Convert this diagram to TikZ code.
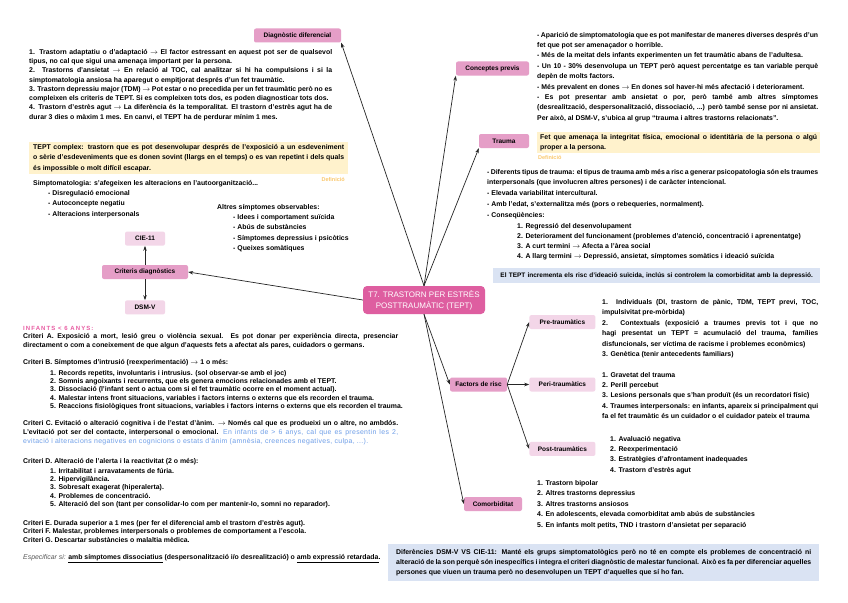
\documentclass[tikz,border=0pt]{standalone}
\usepackage{fontspec}
\setmainfont{Liberation Sans}
\usepackage{tikz}
\usetikzlibrary{arrows.meta,positioning}
\usepackage{xcolor}
\definecolor{hubpink}{RGB}{222,94,160}
\definecolor{midpink}{RGB}{229,158,199}
\definecolor{lightpink}{RGB}{243,214,232}
\definecolor{noteyel}{RGB}{255,242,204}
\definecolor{noteblu}{RGB}{218,227,243}
\definecolor{deforange}{RGB}{250,200,110}
\definecolor{infpink}{RGB}{232,92,162}
\definecolor{kidblue}{RGB}{110,158,232}
\hyphenpenalty=10000
\exhyphenpenalty=10000
\tikzset{
    hub/.style={rectangle, fill=hubpink, rounded corners=4pt, text=white,
                minimum width=122pt, minimum height=28pt, align=center,
                font=\fontsize{8}{11}\selectfont},
    blk/.style={rectangle, fill=#1, rounded corners=2pt, minimum height=14pt,
                inner sep=1pt, font=\fontsize{6.5}{8}\selectfont\bfseries},
    txt/.style={inner sep=0pt, anchor=north west, align=justify, text width=#1},
    lst/.style={inner sep=0pt, anchor=north west, align=left},
    note/.style={rectangle, fill=#1, anchor=north west, inner xsep=4pt,
                 inner ysep=2.4pt, align=justify},
    tag/.style={inner sep=0pt, text=deforange, font=\fontsize{5.5}{6}\selectfont\bfseries},
    arr/.style={-{Stealth[length=5pt,width=3.5pt]}, line width=0.7pt, draw=black!85},
}
\newcommand{\sz}[1]{\fontsize{6.9}{#1}\selectfont\bfseries}

\begin{document}
\begin{tikzpicture}[x=1pt, y=-1pt]
    \fill[white] (0,0) rectangle (848,602);
    \useasboundingbox (0,0) rectangle (848,602);

    % centre
    \node[hub] (hub) at (424,300) {T7. TRASTORN PER ESTRÈS\\POSTTRAUMÀTIC (TEPT)};

    % left branch
    \node[blk=midpink, minimum width=87pt] (dd) at (297.5,35.5) {Diagnòstic diferencial};
    \node[txt=303pt, font=\sz{9.3}] (ddtext) at (29,48.9) {%
        1. Trastorn adaptatiu o d'adaptació $\rightarrow$ El factor estressant en aquest pot ser de qualsevol tipus, no cal que sigui una amenaça important per la persona.\par
        2. Trastorns d'ansietat $\rightarrow$ En relació al TOC, cal analitzar si hi ha compulsions i si la simptomatologia ansiosa ha aparegut o empitjorat després d'un fet traumàtic.\par
        3. Trastorn depressiu major (TDM) $\rightarrow$ Pot estar o no precedida per un fet traumàtic però no es compleixen els criteris de TEPT. Si es compleixen tots dos, es poden diagnosticar tots dos.\par
        4. Trastorn d'estrès agut $\rightarrow$ La diferència és la temporalitat. El trastorn d'estrès agut ha de durar 3 dies o màxim 1 mes. En canvi, el TEPT ha de perdurar mínim 1 mes.};

    \node[note=noteyel, text width=311pt, font=\sz{10.5}] (complex) at (29,141.5) {%
        TEPT complex: trastorn que es pot desenvolupar després de l'exposició a un esdeveniment\linebreak
        o sèrie d'esdeveniments que es donen sovint (llargs en el temps) o es van repetint i dels quals\linebreak
        és impossible o molt difícil escapar.};
    \node[tag, anchor=east] (def1) at (345,180) {Definició};
    \node[lst, font=\sz{10.3}] (simp) at (33,179.9) {%
        Simptomatologia: s'afegeixen les alteracions en l'autoorganització...\\
        \hspace*{15pt}- Disregulació emocional\\
        \hspace*{15pt}- Autoconcepte negatiu\\
        \hspace*{15pt}- Alteracions interpersonals};
    \node[lst, font=\sz{10.3}] (altres) at (217,203.9) {%
        Altres símptomes observables:\\
        \hspace*{16pt}- Idees i comportament suïcida\\
        \hspace*{16pt}- Abús de substàncies\\
        \hspace*{16pt}- Símptomes depressius i psicòtics\\
        \hspace*{16pt}- Queixes somàtiques};

    \node[blk=midpink, minimum width=86pt] (cd) at (145,272) {Criteris diagnòstics};
    \node[blk=lightpink, minimum width=40pt, above=19pt of cd] (cie) {CIE-11};
    \node[blk=lightpink, minimum width=40pt, below=21pt of cd] (dsm) {DSM-V};

    \node[inner sep=0pt, anchor=west, text=infpink,
          font=\fontsize{6}{7}\selectfont\bfseries\addfontfeature{LetterSpace=18}] (inf) at (23,328) {INFANTS < 6 ANYS:};
    \node[txt=375pt, font=\sz{9}] (critA) at (23,332.9) {%
        Criteri A. Exposició a mort, lesió greu o violència sexual. Es pot donar per experiència directa, presenciar\linebreak
        directament o com a coneixement de que algun d'aquests fets a afectat als pares, cuidadors o germans.};
    \node[inner sep=0pt, anchor=west, font=\sz{9}] (critB) at (23,363) {%
        Criteri B. Símptomes d'intrusió (reexperimentació) $\rightarrow$ 1 o més:};
    \node[lst, font=\sz{8.3}] (critBl) at (50,369.9) {%
        1. Records repetits, involuntaris i intrusius. (sol observar-se amb el joc)\\
        2. Somnis angoixants i recurrents, que els genera emocions relacionades amb el TEPT.\\
        3. Dissociació (l'infant sent o actua com si el fet traumàtic ocorre en el moment actual).\\
        4. Malestar intens front situacions, variables i factors interns o externs que els recorden el trauma.\\
        5. Reaccions fisiològiques front situacions, variables i factors interns o externs que els recorden el trauma.};
    \node[txt=375pt, font=\sz{9}] (critC) at (23,419.9) {%
        Criteri C. Evitació o alteració cognitiva i de l'estat d'ànim. $\rightarrow$ Només cal que es produeixi un o altre, no ambdós.\linebreak
        L'evitació pot ser del contacte, interpersonal o emocional. {\color{kidblue}\mdseries\addfontfeature{LetterSpace=5}En infants de > 6 anys, cal que es presentin les 2,\linebreak
        evitació i alteracions negatives en cognicions o estats d'ànim (amnèsia, creences negatives, culpa, ...).}};
    \node[inner sep=0pt, anchor=west, font=\sz{9}] (critD) at (23,462) {%
        Criteri D. Alteració de l'alerta i la reactivitat (2 o més):};
    \node[lst, font=\sz{8.3}] (critDl) at (50,467.9) {%
        1. Irritabilitat i arravataments de fúria.\\
        2. Hipervigilància.\\
        3. Sobresalt exagerat (hiperalerta).\\
        4. Problemes de concentració.\\
        5. Alteració del son (tant per consolidar-lo com per mantenir-lo, somni no reparador).};
    \node[lst, font=\sz{8.5}] (critEG) at (23,519.9) {%
        Criteri E. Durada superior a 1 mes (per fer el diferencial amb el trastorn d'estrès agut).\\
        Criteri F. Malestar, problemes interpersonals o problemes de comportament a l'escola.\\
        Criteri G. Descartar substàncies o malaltia mèdica.};
    \node[inner sep=0pt, anchor=west, font=\sz{9}] (espec) at (23,559) {%
        {\color{black!65}\mdseries\itshape Especificar si:} \underline{amb símptomes dissociatius} (despersonalització i/o desrealització) o \underline{amb expressió retardada}.};

    % right branch
    \node[blk=midpink, minimum width=73pt] (cp) at (492.5,68.5) {Conceptes previs};
    \node[txt=281pt, font=\sz{10.4}] (cptext) at (537,31.9) {%
        - Aparició de simptomatologia que es pot manifestar de maneres diverses després d'un fet que pot ser amenaçador o horrible.\par
        - Més de la meitat dels infants experimenten un fet traumàtic abans de l'adultesa.\par
        - Un 10 - 30\% desenvolupa un TEPT però aquest percentatge es tan variable perquè depèn de molts factors.\par
        - Més prevalent en dones $\rightarrow$ En dones sol haver-hi més afectació i deteriorament.\par
        - Es pot presentar amb ansietat o por, però també amb altres símptomes\linebreak
        (desrealització, despersonalització, dissociació, ...) però també sense por ni ansietat.\linebreak
        Per això, al \mbox{DSM-V}, s'ubica al grup ``trauma i altres trastorns relacionats''.};

    \node[blk=midpink, minimum width=50pt] (tr) at (504,141) {Trauma};
    \node[note=noteyel, inner xsep=3pt, inner ysep=2pt, text width=277pt, font=\sz{10}] (trnote) at (537,132) {%
        Fet que amenaça la integritat física, emocional o identitària de la persona o algú proper a la persona.};
    \node[tag, anchor=west] (def2) at (538,158) {Definició};
    \node[txt=331pt, font=\sz{10.75}] (trtext) at (487,168.9) {%
        - Diferents tipus de trauma: el tipus de trauma amb més a risc a generar psicopatologia són els traumes interpersonals (que involucren altres persones) i de caràcter intencional.\par
        - Elevada variabilitat intercultural.\par
        - Amb l'edat, s'externalitza més (pors o rebequeries, normalment).\par
        - Conseqüències:};
    \node[lst, font=\sz{10}] (conseq) at (517,222.9) {%
        1. Regressió del desenvolupament\\
        2. Deteriorament del funcionament (problemes d'atenció, concentració i aprenentatge)\\
        3. A curt termini $\rightarrow$ Afecta a l'àrea social\\
        4. A llarg termini $\rightarrow$ Depressió, ansietat, símptomes somàtics i ideació suïcida};
    \node[note=noteblu, text width=321pt, inner xsep=3pt, minimum height=15pt, align=center, inner ysep=0pt,
          font=\fontsize{6.5}{9}\selectfont\bfseries] (suic) at (493,268) {%
        El TEPT incrementa els risc d'ideació suïcida, inclús si controlem la comorbiditat amb la depressió.};

    \node[blk=midpink, minimum width=57pt] (fr) at (478.5,384.5) {Factors de risc};
    \node[blk=lightpink, minimum width=66pt, right=22pt of fr] (peri) {Peri-traumàtics};
    \node[blk=lightpink, minimum width=66pt, above=48pt of peri] (pre) {Pre-traumàtics};
    \node[blk=lightpink, minimum width=66pt, below=50pt of peri] (post) {Post-traumàtics};
    \node[txt=216pt, font=\sz{10.5}] (pretext) at (602,298.9) {%
        1. Individuals (DI, trastorn de pànic, TDM, TEPT previ, TOC, impulsivitat pre-mòrbida)\par
        2. Contextuals (exposició a traumes previs tot i que no hagi presentat un TEPT = acumulació del trauma, famílies disfuncionals, ser víctima de racisme i problemes econòmics)\par
        3. Genètica (tenir antecedents familiars)};
    \node[txt=216pt, font=\sz{10.3}] (peritext) at (602,371.9) {%
        1. Gravetat del trauma\par
        2. Perill percebut\par
        3. Lesions personals que s'han produït (és un recordatori físic)\par
        4. Traumes interpersonals: en infants, apareix si principalment qui fa el fet traumàtic és un cuidador o el cuidador pateix el trauma};
    \node[lst, font=\sz{10.3}] (posttext) at (610,435.9) {%
        1. Avaluació negativa\\
        2. Reexperimentació\\
        3. Estratègies d'afrontament inadequades\\
        4. Trastorn d'estrès agut};

    \node[blk=midpink, minimum width=58pt] (com) at (493,504) {Comorbiditat};
    \node[lst, font=\sz{10.5}] (comtext) at (537,479.9) {%
        1. Trastorn bipolar\\
        2. Altres trastorns depressius\\
        3. Altres trastorns ansiosos\\
        4. En adolescents, elevada comorbiditat amb abús de substàncies\\
        5. En infants molt petits, TND i trastorn d'ansietat per separació};

    \node[note=noteblu, inner xsep=8pt, inner ysep=5.6pt, text width=415pt, font=\sz{9.7}] (dif) at (388,544) {%
        Diferències DSM-V VS CIE-11: Manté els grups simptomatològics però no té en compte els problemes de concentració ni\linebreak
        alteració de la son perquè són inespecífics i integra el criteri diagnòstic de malestar funcional. Això es fa per diferenciar aquelles\linebreak
        persones que viuen un trauma però no desenvolupen un TEPT d'aquelles que sí ho fan.};

    % connectors
    \draw[arr] (hub.north) -- (dd.south east);
    \draw[arr] (hub.north) -- (cp.south west);
    \draw[arr] (hub.north) -- (tr.south west);
    \draw[arr] (hub.west) -- (cd.east);
    \draw[arr] (cd) -- (cie);
    \draw[arr] (cd) -- (dsm);
    \draw[arr] (hub.south) -- (fr.west);
    \draw[arr] (hub.south) -- (com.west);
    \draw[arr] (fr.east) -- (pre.west);
    \draw[arr] (fr.east) -- (peri.west);
    \draw[arr] (fr.east) -- (post.west);
\end{tikzpicture}
\end{document}
